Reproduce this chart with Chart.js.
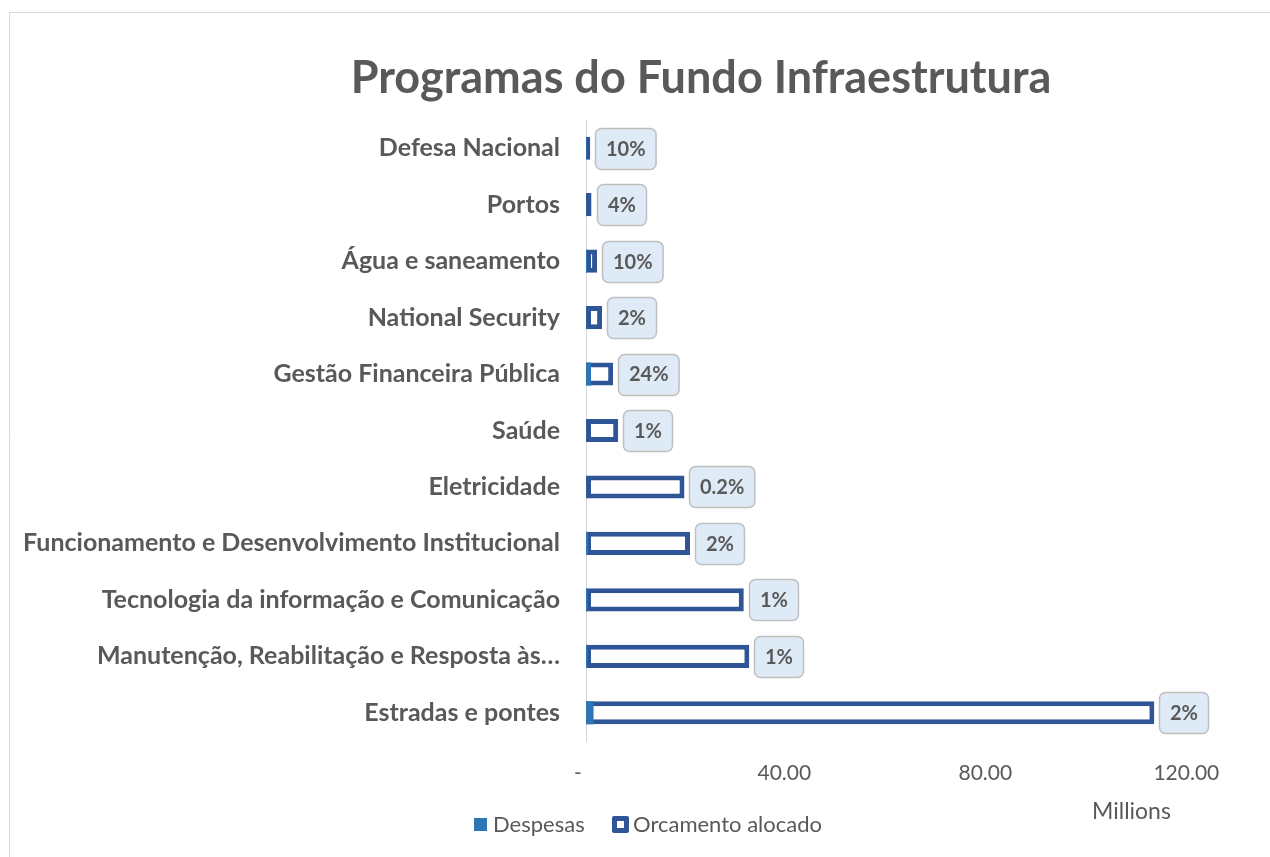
<!DOCTYPE html>
<html>
<head>
<meta charset="utf-8">
<script src="https://cdn.jsdelivr.net/npm/chart.js@4.4.1/dist/chart.umd.min.js"></script>
<style>
  html, body { margin: 0; padding: 0; background: #ffffff; overflow: hidden; }
  #wrap { position: absolute; left: 0; top: 0; width: 1270px; height: 857px; }
</style>
</head>
<body>
<div id="wrap"><canvas id="c" width="1270" height="857"></canvas></div>
<script>
// ---- data ----
const categories = [
  'Defesa Nacional',
  'Portos',
  'Água e saneamento',
  'National Security',
  'Gestão Financeira Pública',
  'Saúde',
  'Eletricidade',
  'Funcionamento e Desenvolvimento Institucional',
  'Tecnologia da informação e Comunicação',
  'Manutenção, Reabilitação e Resposta às…',
  'Estradas e pontes'
];
// millions
const orcamentoAlocado = [0.85, 1.1, 2.2, 3.2, 5.4, 6.4, 19.6, 20.7, 31.4, 32.5, 113.1];
const despesas        = [0.08, 0.04, 0.2, 0.06, 1.0, 0.06, 0.04, 0.4, 0.3, 0.3, 1.5];
const percentLabels   = ['10%', '4%', '10%', '2%', '24%', '1%', '0.2%', '2%', '1%', '1%', '2%'];
const xTicks = [0, 40, 80, 120];
const chartTitle = 'Programas do Fundo Infraestrutura';
const seriesNames = ['Despesas', 'Orcamento alocado'];
const unitLabel = 'Millions';

// ---- style ----
const FONT = 'Lato, "Open Sans", sans-serif';
const GREY = '#595959';
const LIGHT_BLUE = '#2E75B6';
const DARK_BLUE = '#2F5597';

const decorPlugin = {
  id: 'decor',
  beforeDraw(chart) {
    const ctx = chart.ctx;
    ctx.save();
    ctx.strokeStyle = '#D9D9D9';
    ctx.lineWidth = 1;
    ctx.beginPath();
    ctx.moveTo(9.5, 857);
    ctx.lineTo(9.5, 12.5);
    ctx.lineTo(1270, 12.5);
    ctx.stroke();
    ctx.restore();
  },
  afterDatasetsDraw(chart) {
    const ctx = chart.ctx;
    const meta = chart.getDatasetMeta(1);
    ctx.save();
    ctx.font = 'bold 20px ' + FONT;
    meta.data.forEach((bar, i) => {
      const txt = percentLabels[i];
      const tw = ctx.measureText(txt).width;
      const w = tw + 21, h = 41;
      const x0 = Math.round(bar.x) + 5.5, y0 = Math.round(bar.y - h / 2) + 0.5;
      ctx.beginPath();
      ctx.roundRect(x0, y0, w, h, 6);
      ctx.fillStyle = '#DEEBF7';
      ctx.fill();
      ctx.strokeStyle = '#BFBFBF';
      ctx.lineWidth = 1.5;
      ctx.stroke();
      ctx.fillStyle = GREY;
      ctx.textAlign = 'center';
      ctx.textBaseline = 'middle';
      ctx.fillText(txt, x0 + w / 2, bar.y + 1);
    });
    ctx.restore();
  },
  afterDraw(chart) {
    const ctx = chart.ctx;
    ctx.save();
    // title
    ctx.fillStyle = GREY;
    ctx.font = 'bold 45px ' + FONT;
    ctx.textAlign = 'center';
    ctx.textBaseline = 'alphabetic';
    ctx.fillText(chartTitle, 701, 93);
    // units label
    ctx.font = '23px ' + FONT;
    ctx.textAlign = 'left';
    ctx.fillText(unitLabel, 1092, 819);
    // legend
    ctx.font = '22px ' + FONT;
    ctx.fillStyle = LIGHT_BLUE;
    ctx.fillRect(474, 818, 13, 13);
    ctx.fillStyle = GREY;
    ctx.fillText(seriesNames[0], 493, 832);
    ctx.fillStyle = DARK_BLUE;
    ctx.beginPath();
    ctx.roundRect(612, 816, 17, 17, 2);
    ctx.fill();
    ctx.fillStyle = '#FFFFFF';
    ctx.fillRect(617, 821, 7, 7);
    ctx.fillStyle = GREY;
    ctx.fillText(seriesNames[1], 633, 832);
    ctx.restore();
  }
};

new Chart(document.getElementById('c'), {
  type: 'bar',
  data: {
    labels: categories,
    datasets: [
      {
        label: seriesNames[0],
        data: despesas,
        backgroundColor: LIGHT_BLUE,
        borderWidth: 0,
        grouped: false,
        categoryPercentage: 1,
        barPercentage: 0.41
      },
      {
        label: seriesNames[1],
        data: orcamentoAlocado,
        backgroundColor: '#FFFFFF',
        borderColor: DARK_BLUE,
        borderWidth: 5,
        borderSkipped: false,
        grouped: false,
        categoryPercentage: 1,
        barPercentage: 0.41
      }
    ]
  },
  options: {
    indexAxis: 'y',
    responsive: false,
    animation: false,
    events: [],
    layout: { padding: { left: 0, top: 120, right: 81, bottom: 0 } },
    plugins: {
      legend: { display: false },
      title: { display: false },
      tooltip: { enabled: false }
    },
    scales: {
      x: {
        min: 0,
        max: 120,
        afterBuildTicks(scale) { scale.ticks = xTicks.map(v => ({ value: v })); },
        afterFit(scale) { scale.height = 116; },
        grid: { display: false, drawTicks: false },
        border: { display: false },
        ticks: {
          color: GREY,
          font: { family: FONT, size: 21 },
          padding: 20,
          maxRotation: 0,
          callback: (v) => v === 0 ? '-   ' : v.toFixed(2) + ' '
        }
      },
      y: {
        afterFit(scale) { scale.width = 586; },
        grid: { display: false, drawTicks: false },
        border: { display: true, color: '#D9D9D9', width: 1 },
        ticks: {
          color: GREY,
          font: { family: FONT, size: 25, weight: 'bold' },
          padding: 26,
          autoSkip: false
        }
      }
    }
  },
  plugins: [decorPlugin]
});
</script>
</body>
</html>
